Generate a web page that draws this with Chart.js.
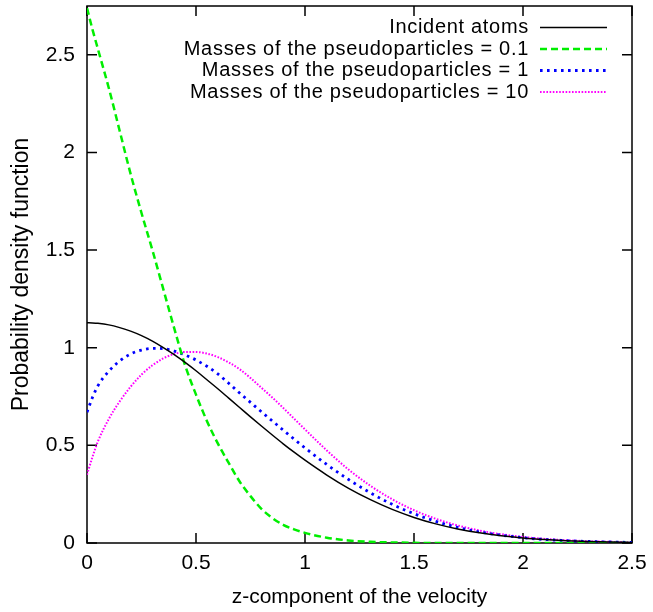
<!DOCTYPE html>
<html>
<head>
<meta charset="utf-8">
<script src="https://cdn.jsdelivr.net/npm/chart.js@4.4.0/dist/chart.umd.min.js"></script>
<style>
html,body{margin:0;padding:0;background:#fff;}
</style>
</head>
<body>
<canvas id="grafico" width="653" height="612"></canvas>
<script>
// velocidades (eje x) comunes a todas las curvas
var velocidad = [0, 0.025, 0.05, 0.1, 0.15, 0.2, 0.25, 0.3, 0.35, 0.4, 0.45, 0.5, 0.55, 0.6, 0.65, 0.7, 0.75, 0.8, 0.85, 0.9, 0.95, 1.0,
                 1.1, 1.2, 1.3, 1.4, 1.5, 1.6, 1.7, 1.8, 1.9, 2.0, 2.1, 2.2, 2.3, 2.4, 2.5];
// valores
var atomosIncidentes = [1.128, 1.127, 1.125, 1.117, 1.103, 1.085, 1.062, 1.034, 1.001, 0.965, 0.925, 0.882, 0.836, 0.790, 0.742, 0.694, 0.646, 0.599, 0.553, 0.508, 0.465, 0.424,
                        0.348, 0.280, 0.222, 0.172, 0.131, 0.098, 0.072, 0.052, 0.037, 0.026, 0.018, 0.012, 0.008, 0.005, 0.003];
var masa01 = [2.74, 2.63, 2.53, 2.33, 2.11, 1.89, 1.69, 1.50, 1.30, 1.10, 0.91, 0.76, 0.625, 0.51, 0.41, 0.315, 0.24, 0.175, 0.128, 0.093, 0.07, 0.052,
              0.027, 0.013, 0.006, 0.003, 0.001, 0, 0, 0, 0, 0, 0, 0, 0, 0, 0];
var masa1 = [0.67, 0.745, 0.805, 0.88, 0.932, 0.968, 0.988, 0.997, 0.995, 0.983, 0.963, 0.937, 0.905, 0.866, 0.818, 0.768, 0.720, 0.672, 0.625, 0.578, 0.532, 0.487,
             0.402, 0.325, 0.257, 0.198, 0.150, 0.111, 0.080, 0.057, 0.040, 0.027, 0.018, 0.012, 0.008, 0.005, 0.003];
var masa10 = [0.35, 0.44, 0.52, 0.635, 0.725, 0.80, 0.862, 0.91, 0.945, 0.968, 0.978, 0.978, 0.97, 0.952, 0.925, 0.89, 0.845, 0.795, 0.745, 0.692, 0.637, 0.582,
              0.474, 0.376, 0.293, 0.224, 0.168, 0.124, 0.090, 0.064, 0.045, 0.031, 0.021, 0.014, 0.009, 0.006, 0.004];
var etiquetas = ['Incident atoms', 'Masses of the pseudoparticles = 0.1', 'Masses of the pseudoparticles = 1', 'Masses of the pseudoparticles = 10'];
var xTicks = [0, 0.5, 1, 1.5, 2, 2.5];
var xTickLabels = ['0', '0.5', '1', '1.5', '2', '2.5'];
var yTicks = [0, 0.5, 1, 1.5, 2, 2.5];
var yTickLabels = ['0', '0.5', '1', '1.5', '2', '2.5'];

var fuente = '"Liberation Sans", Arial, sans-serif';

function puntos(valores){
    return velocidad.map(function(v, i){ return {x: v, y: valores[i]}; });
}

// marco con marcas hacia dentro en los cuatro lados (estilo gnuplot)
var marco = {
    id: 'marco',
    beforeDatasetsDraw: function(chart){
        var ctx = chart.ctx, a = chart.chartArea;
        var sx = chart.scales.x, sy = chart.scales.y;
        ctx.save();
        ctx.strokeStyle = '#000';
        ctx.lineWidth = 1.5;
        ctx.beginPath();
        xTicks.forEach(function(v){
            var p = sx.getPixelForValue(v);
            ctx.moveTo(p, a.bottom); ctx.lineTo(p, a.bottom - 10);
            ctx.moveTo(p, a.top); ctx.lineTo(p, a.top + 10);
        });
        yTicks.forEach(function(v){
            var p = sy.getPixelForValue(v);
            ctx.moveTo(a.left, p); ctx.lineTo(a.left + 10, p);
            ctx.moveTo(a.right, p); ctx.lineTo(a.right - 10, p);
        });
        ctx.stroke();
        ctx.strokeRect(a.left, a.top, a.right - a.left, a.bottom - a.top);
        ctx.restore();
    }
};

// leyenda arriba a la derecha: texto alineado a la derecha y muestra de linea
var leyenda = {
    id: 'leyenda',
    afterDraw: function(chart){
        var ctx = chart.ctx;
        ctx.save();
        chart.data.datasets.forEach(function(ds, i){
            var y = 27.5 + i * 21.5;
            ctx.font = '20px ' + fuente;
            ctx.letterSpacing = '0.7px';
            ctx.fillStyle = '#000';
            ctx.textAlign = 'right';
            ctx.textBaseline = 'middle';
            ctx.fillText(ds.label, 529, y);
            ctx.beginPath();
            ctx.strokeStyle = ds.borderColor;
            ctx.lineWidth = ds.borderWidth;
            ctx.setLineDash(ds.borderDash || []);
            ctx.moveTo(540, y); ctx.lineTo(607, y);
            ctx.stroke();
        });
        ctx.restore();
    }
};

var ctx = document.getElementById('grafico');
var grafico = new Chart(ctx, {
    type: 'line',
    data: {
        datasets: [
            {label: etiquetas[0], data: puntos(atomosIncidentes), borderColor: '#000000', borderWidth: 1.5, borderDash: []},
            {label: etiquetas[1], data: puntos(masa01), borderColor: '#00ee00', borderWidth: 2.5, borderDash: [7, 4]},
            {label: etiquetas[2], data: puntos(masa1), borderColor: '#0000ff', borderWidth: 2.8, borderDash: [2.6, 4.4]},
            {label: etiquetas[3], data: puntos(masa10), borderColor: '#ff00ff', borderWidth: 2, borderDash: [1.6, 1.6]}
        ]
    },
    options: {
        responsive: false,
        animation: false,
        events: [],
        elements: {
            point: {radius: 0},
            line: {cubicInterpolationMode: 'monotone', borderCapStyle: 'butt'}
        },
        layout: {padding: {top: 6, right: 21, left: 0, bottom: 0}},
        plugins: {legend: {display: false}, tooltip: {enabled: false}},
        scales: {
            x: {
                type: 'linear', min: 0, max: 2.5,
                grid: {display: false, drawTicks: false},
                border: {display: false},
                afterBuildTicks: function(s){ s.ticks = xTicks.map(function(v){ return {value: v}; }); },
                afterFit: function(s){ s.height = 69; s.paddingLeft = 0; s.paddingRight = 0; },
                ticks: {
                    padding: 8, color: '#000', maxRotation: 0, autoSkip: false,
                    font: {family: fuente, size: 21},
                    callback: function(v){ return xTickLabels[xTicks.indexOf(v)]; }
                },
                title: {display: true, text: 'z-component of the velocity', color: '#000',
                        font: {family: fuente, size: 21}, padding: {top: 0, bottom: 2}}
            },
            y: {
                type: 'linear', min: 0, max: 2.75,
                grid: {display: false, drawTicks: false},
                border: {display: false},
                afterBuildTicks: function(s){ s.ticks = yTicks.map(function(v){ return {value: v}; }); },
                afterFit: function(s){ s.width = 87; s.paddingTop = 0; s.paddingBottom = 0; },
                ticks: {
                    padding: 12, color: '#000', autoSkip: false,
                    font: {family: fuente, size: 21},
                    callback: function(v){ return yTickLabels[yTicks.indexOf(v)]; }
                },
                title: {display: true, text: 'Probability density function', color: '#000',
                        font: {family: fuente, size: 23}, padding: {top: 8, bottom: 0}}
            }
        }
    },
    plugins: [marco, leyenda]
});
</script>
</body>
</html>
